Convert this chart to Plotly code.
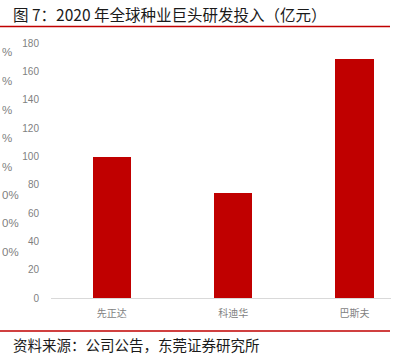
import plotly.graph_objects as go

# ---- data ----
categories = ["先正达", "科迪华", "巴斯夫"]
values = [99.4, 74.3, 168.7]
y_ticks = [0, 20, 40, 60, 80, 100, 120, 140, 160, 180]
title_text = "图 7：2020 年全球种业巨头研发投入（亿元）"
source_text = "资料来源：公司公告，东莞证券研究所"
# visible (clipped) remains of a hidden secondary axis at the left edge
ghost_labels = ["%", "%", "%", "%", "%", "0%", "0%", "0%"]

# ---- layout geometry (pixels) ----
W, H = 399, 359
L, R = 51, 391
TOP, BOT = 43, 298

def px(x):
    return (x - L) / (R - L)

def py(y):
    return (BOT - y) / (BOT - TOP)

CJK = "Noto Sans CJK SC"
RED = "#c00000"
GRAY = "#7f7f7f"

fig = go.Figure()
fig.add_trace(go.Bar(
    x=list(range(len(categories))),
    y=values,
    width=0.315,
    marker=dict(color=RED, line=dict(width=0)),
    hoverinfo="skip",
))

annotations = [
    dict(text=title_text, x=px(11), y=py(14), xref="paper", yref="paper",
         xanchor="left", yanchor="middle", showarrow=False,
         font=dict(family=CJK, size=15.5, color="#1a1a1a")),
    dict(text=source_text, x=px(11), y=py(344), xref="paper", yref="paper",
         xanchor="left", yanchor="middle", showarrow=False,
         font=dict(family=CJK, size=14.5, color="#1a1a1a")),
]
ghost_y = [51.7, 80.7, 110, 138, 166.7, 195, 223, 251.7]
for t, yy in zip(ghost_labels, ghost_y):
    annotations.append(dict(text=t, x=px(0), y=py(yy), xref="paper", yref="paper",
                            xanchor="left", yanchor="middle", showarrow=False,
                            font=dict(family="Liberation Sans", size=11.5, color=GRAY)))

shapes = [
    dict(type="line", xref="paper", yref="paper", x0=px(0), x1=px(390),
         y0=py(26.5), y1=py(26.5), line=dict(color=RED, width=1.5)),
    dict(type="line", xref="paper", yref="paper", x0=px(0), x1=px(390),
         y0=py(331), y1=py(331), line=dict(color=RED, width=1.5)),
]

fig.update_layout(
    width=W, height=H,
    margin=dict(l=L, r=W - R, t=TOP, b=H - BOT, pad=0),
    paper_bgcolor="white", plot_bgcolor="white",
    showlegend=False,
    bargap=0,
    annotations=annotations,
    shapes=shapes,
    xaxis=dict(
        range=[-0.5, 2.3],
        tickmode="array", tickvals=list(range(len(categories))), ticktext=categories,
        showgrid=False, zeroline=False,
        showline=True, linecolor="#d9d9d9", linewidth=1,
        ticks="", ticklen=0, ticklabelstandoff=6,
        tickfont=dict(family=CJK, size=10, color=GRAY),
        fixedrange=True,
    ),
    yaxis=dict(
        range=[0, 180],
        tickmode="array", tickvals=y_ticks,
        showgrid=False, zeroline=False, showline=False,
        ticks="outside", ticklen=9, tickcolor="rgba(0,0,0,0)",
        tickfont=dict(family="Liberation Sans", size=10, color=GRAY),
        fixedrange=True,
    ),
)

fig.write_html("out.html", config={"displayModeBar": False})
